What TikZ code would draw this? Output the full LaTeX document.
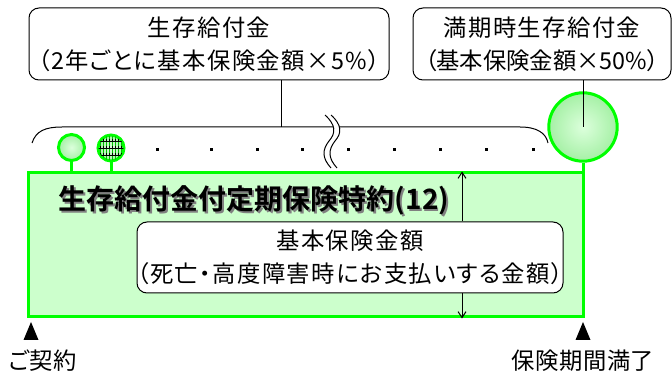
\documentclass[tikz,border=0pt]{standalone}
\usepackage{fontspec}
\setmainfont{Noto Sans CJK JP}[BoldFont={Noto Sans CJK JP Bold}, RawFeature=+palt]
\usetikzlibrary{arrows.meta}
\definecolor{pgreen}{RGB}{0,255,0}
\definecolor{pfill}{RGB}{204,255,204}
\definecolor{cin}{RGB}{220,255,220}
\definecolor{cout}{RGB}{165,240,165}
\definecolor{hatchg}{RGB}{0,190,0}
\tikzset{every picture/.style={line width=0.75pt}}

\begin{document}
\begin{tikzpicture}[x=0.75pt,y=0.75pt,yscale=-1,xscale=1,
	callout/.style={draw, rounded corners=7.5pt, fill=white, align=center, inner sep=0pt,
		font=\fontsize{17.5}{24.5}\selectfont\addfontfeature{LetterSpace=6}},
	plan/.style={draw=pgreen, fill=pfill, line width=2.25pt, inner sep=0pt},
	payC/.style={circle, draw=pgreen, line width=2.25pt, inner sep=0pt, inner color=cin, outer color=cout},
	stem/.style={draw=pgreen, line width=2.25pt},
	titlefont/.style={font=\fontsize{21}{24}\selectfont\bfseries},
	endlabel/.style={font=\fontsize{17.5}{20}\selectfont\addfontfeature{LetterSpace=2}}]
	\useasboundingbox (0,0) rectangle (672,374);

	% payments brace
	\coordinate (braceTop) at (281,127);
	\draw (32,143) .. controls (36,131) and (45,127) .. (62,127) -- (520,127) .. controls (537,127) and (546,133) .. (548,143) ;
	% break mark
	\fill[white] (325,115) .. controls (336,125) and (336,133) .. (329,141) .. controls (322,150) and (322,158) .. (331,168)
		-- (337,168) .. controls (328,158) and (328,150) .. (335,141) .. controls (342,133) and (342,125) .. (331,115) -- cycle ;
	\draw (325,115) .. controls (336,125) and (336,133) .. (329,141) .. controls (322,150) and (322,158) .. (331,168) ;
	\draw (331,115) .. controls (342,125) and (342,133) .. (335,141) .. controls (328,150) and (328,158) .. (337,168) ;
	% dots
	\foreach \x in {157,211,257,302,348,394,440,486,533}
		\fill (\x-1.5,148.5) rectangle ++(3,3);

	% Text boxes
	\node[callout, minimum width=270pt, minimum height=54pt] (surv) at (209,44) {生存給付金\\（2年ごとに基本保険金額×5\%）};
	\node[callout, minimum width=193.5pt, minimum height=54pt] (mat) at (542,44) {満期時生存給付金\\{\addfontfeature{LetterSpace=0}（基本保険金額×50\%）}};
	\draw (surv.south -| braceTop) -- (braceTop) ;

	% rider box
	\node[plan, minimum width=416.25pt, minimum height=108pt] (plan) at (305.5,245) {};
	\node[titlefont, anchor=west, text={rgb,255:red,128;green,128;blue,128}] (titleSh) at (55.5,202) {生存給付金付定期保険特約(12)};
	\node[titlefont, anchor=west] (title) at (54,200) {生存給付金付定期保険特約(12)};
	\node[callout, minimum width=319.5pt, minimum height=53.25pt] (base) at (350,257.5) {基本保険金額\\（死亡・高度障害時にお支払いする金額）};
	\coordinate (ax) at (462,0);
	\draw[-{Straight Barb[length=4.5pt,width=6pt]}] (base.north -| ax) -- (plan.north -| ax) ;
	\draw[-{Straight Barb[length=4.5pt,width=6pt]}] (base.south -| ax) -- (plan.south -| ax) ;

	% payment circles
	\node[payC, minimum size=19.5pt] (pay1) at (71.5,147.5) {};
	\node[payC, minimum size=19.5pt] (pay2) at (111,148) {};
	\begin{scope}
		\clip (111,148) circle (12.5);
		\foreach \x in {97,100,...,126}
			\draw[hatchg, line width=0.6pt] (\x,134) -- (\x,162);
		\foreach \y in {141,148,155} {
			\draw[line width=0.6pt] (97,\y) -- (126,\y);
			\foreach \x in {100,103,...,123}
				\draw[line width=0.6pt] (\x,\y-1.5) -- (\x,\y+1.5);
		}
	\end{scope}
	\node[payC, minimum size=51.3pt] (payEnd) at (583,127) {};
	\draw (mat.south -| payEnd) -- (payEnd.center) ;
	\draw[stem] (pay1.south) -- (pay1.south |- plan.north) ;
	\draw[stem] (pay2.south) -- (pay2.south |- plan.north) ;
	\draw[stem] (payEnd.south) -- (payEnd.south |- plan.north) ;

	% time marks
	\fill (31,322) -- (38.5,340) -- (23.5,340) -- cycle ;
	\fill (583,322) -- (590.5,340) -- (575.5,340) -- cycle ;
	\node[endlabel] (start) at (42.5,361) {ご契約};
	\node[endlabel] (expiry) at (583,361) {保険期間満了};
\end{tikzpicture}
\end{document}
